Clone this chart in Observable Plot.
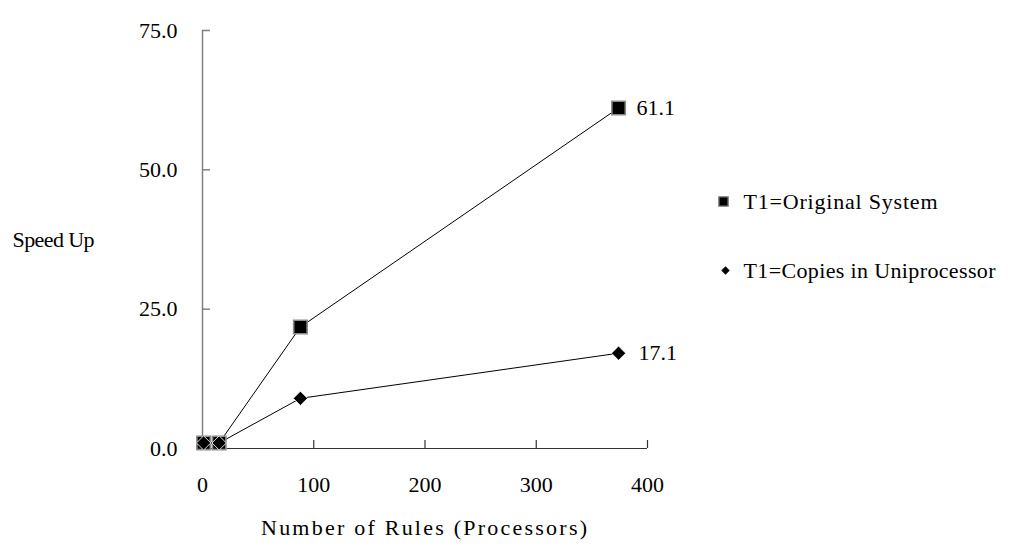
<!DOCTYPE html>
<html>
<head>
<meta charset="utf-8">
<script src="https://cdn.jsdelivr.net/npm/d3@7"></script>
<script src="https://cdn.jsdelivr.net/npm/@observablehq/plot@0.6"></script>
<style>
  html, body { margin: 0; padding: 0; background: #fff; }
  #chart svg { display: block; }
</style>
</head>
<body>
<div id="chart"></div>
<script>
const rules = [1, 15, 88, 374];
const originalSystem = [1, 1, 21.8, 61.1];
const copiesUniprocessor = [1, 1, 9.0, 17.1];
const seriesNames = ["T1=Original System", "T1=Copies in Uniprocessor"];
const xTicks = [0, 100, 200, 300, 400];
const yTicks = [0, 25, 50, 75];
const yLabel = "Speed Up";
const xLabel = "Number of Rules (Processors)";

const orig = rules.map((x, i) => ({x, y: originalSystem[i], s: seriesNames[0]}));
const copies = rules.map((x, i) => ({x, y: copiesUniprocessor[i], s: seriesNames[1]}));
const lastOrig = orig.slice(-1);
const lastCopies = copies.slice(-1);

const FS = 22;
const FF = "Liberation Serif";
const T = {fontSize: FS, fontFamily: FF, fill: "#000"};

const chart = Plot.plot({
  width: 1016,
  height: 548,
  marginLeft: 202,
  marginRight: 369,
  marginTop: 30,
  marginBottom: 100,
  x: {domain: [0, 400], ticks: xTicks},
  y: {domain: [0, 75], ticks: yTicks},
  marks: [
    Plot.ruleX([0], {stroke: "#808080", strokeWidth: 1.5}),
    Plot.ruleY([0], {stroke: "#333", strokeWidth: 1.2}),
    Plot.axisY(yTicks, {tickSize: -8, tickFormat: () => "", stroke: "#808080", strokeWidth: 1.5, label: null}),
    Plot.axisY(yTicks, {tickSize: 0, tickPadding: 25, tickFormat: d => d.toFixed(1), ...T, label: null}),
    Plot.axisX(xTicks, {tickSize: -8, tickFormat: () => "", stroke: "#333", strokeWidth: 1.2, label: null}),
    Plot.axisX(xTicks, {tickSize: 0, tickPadding: 28, tickFormat: d => String(d), ...T, label: null}),
    Plot.line(orig, {x: "x", y: "y", stroke: "#000", strokeWidth: 1}),
    Plot.line(copies, {x: "x", y: "y", stroke: "#000", strokeWidth: 1}),
    Plot.dot(orig, {x: "x", y: "y", symbol: "square", r: 7.6, fill: "#000", stroke: "#8a8a8a", strokeWidth: 1.6}),
    Plot.dot(copies, {x: "x", y: "y", symbol: "square", r: 5.7, rotate: 45, fill: "#000", stroke: "#fff", strokeWidth: 0.8}),
    Plot.text(lastOrig, {x: "x", y: "y", text: d => d.y.toFixed(1), dx: 18, textAnchor: "start", ...T}),
    Plot.text(lastCopies, {x: "x", y: "y", text: d => d.y.toFixed(1), dx: 20, textAnchor: "start", ...T}),
    Plot.text([yLabel], {frameAnchor: "left", dx: -190, textAnchor: "start", lineAnchor: "middle", ...T}),
    Plot.text([xLabel], {frameAnchor: "bottom", dx: -1, dy: 79, lineAnchor: "middle", ...T}),
    Plot.dot([seriesNames[0]], {frameAnchor: "top-right", dx: 76, dy: 171, symbol: "square", r: 5.2, fill: "#000", stroke: "#777", strokeWidth: 1.4}),
    Plot.text([seriesNames[0]], {frameAnchor: "top-right", dx: 96, dy: 171, textAnchor: "start", lineAnchor: "middle", ...T}),
    Plot.dot([seriesNames[1]], {frameAnchor: "top-right", dx: 78, dy: 240, symbol: "square", r: 3.4, rotate: 45, fill: "#000"}),
    Plot.text([seriesNames[1]], {frameAnchor: "top-right", dx: 96, dy: 240, textAnchor: "start", lineAnchor: "middle", ...T})
  ]
});
chart.setAttribute("font-family", FF);
// stretch a few texts to the widths they take in the reference
const widths = new Map([[xLabel, 326], [seriesNames[0], 194], [seriesNames[1], 252], [yLabel, 82]]);
d3.select(chart).selectAll("text").each(function() {
  const w = widths.get(this.textContent);
  if (w) { this.setAttribute("textLength", w); this.setAttribute("lengthAdjust", "spacing"); }
});
document.getElementById("chart").appendChild(chart);
</script>
</body>
</html>
